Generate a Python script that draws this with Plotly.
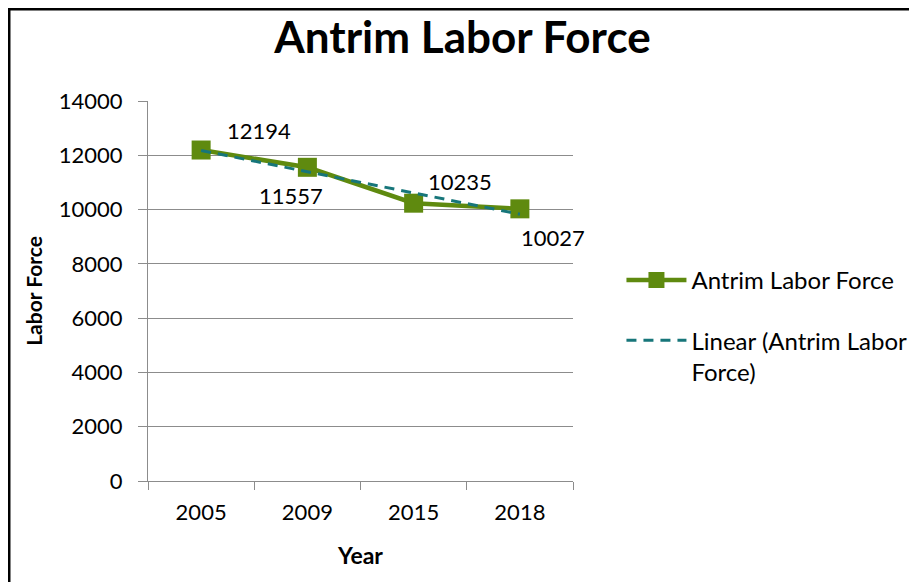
import numpy as np
import plotly.graph_objects as go

# Data
years = ["2005", "2009", "2015", "2018"]
labor_force = [12194, 11557, 10235, 10027]

# label offsets (px) relative to each point, Excel-style placement
label_dx = [58, -16, 46, 33]
label_dy = [20, -28, 22, -29]

# Linear trendline, fitted over category index like Excel does
idx = np.arange(1, len(years) + 1)
slope, intercept = np.polyfit(idx, labor_force, 1)
trend = slope * idx + intercept

FONT = "Lato, Open Sans, sans-serif"
GREEN = "#5f8a0f"
TEAL = "#17767a"
GRID = "#8c8c8c"

fig = go.Figure()
fig.add_trace(go.Scatter(
    x=years, y=labor_force, mode="lines+markers", name="Antrim Labor Force",
    line=dict(color=GREEN, width=4.5),
    marker=dict(symbol="square", size=19, color=GREEN),
    legendgroup="a", hoverinfo="skip",
))
fig.add_trace(go.Scatter(
    x=years, y=trend, mode="lines", name="Linear (Antrim Labor<br>Force)",
    line=dict(color=TEAL, width=3, dash="10px,7px"),
    legendgroup="b", hoverinfo="skip",
))

# data labels, anchored on the category index of each point
for i, (v, dx, dy) in enumerate(zip(labor_force, label_dx, label_dy)):
    fig.add_annotation(x=i, y=v, text=str(v), showarrow=False,
                       xshift=dx, yshift=dy, font=dict(size=22, color="black"))

# outer chart border (only top and left edges fall inside the picture)
fig.add_shape(type="rect", xref="paper", yref="paper",
              x0=-0.3265, x1=1.9, y0=-0.4, y1=1.2414,
              line=dict(color="black", width=2.5), fillcolor="rgba(0,0,0,0)")

fig.update_xaxes(
    type="category", range=[-0.5, 3.5], tickson="boundaries",
    ticks="outside", ticklen=8, tickcolor=GRID,
    showline=True, linecolor=GRID, linewidth=1,
    showgrid=False, tickfont=dict(size=22, color="black"), tickangle=0,
    ticklabelstandoff=12,
    title=dict(text="<b>Year</b>", font=dict(size=23, color="black"), standoff=23),
)
fig.update_yaxes(
    range=[0, 14000], dtick=2000, tickformat="d", ticks="outside", ticklen=9,
    tickcolor=GRID, showline=True, linecolor=GRID, linewidth=1,
    showgrid=True, gridcolor=GRID, gridwidth=1, zeroline=False,
    tickfont=dict(size=22, color="black"), ticklabelstandoff=11,
    title=dict(text="<b>Labor Force</b>", font=dict(size=21, color="black"), standoff=10),
)

fig.update_layout(
    width=909, height=574,
    margin=dict(l=140, r=344, t=93, b=101, autoexpand=False),
    paper_bgcolor="white", plot_bgcolor="white",
    font=dict(family=FONT, color="black"),
    title=dict(text="<b>Antrim Labor Force</b>", x=0.5, xanchor="center",
               y=0.948, yanchor="middle", font=dict(size=44, color="black")),
    legend=dict(x=1.114, y=0.587, xanchor="left", yanchor="top",
                font=dict(size=24, color="black"), valign="top",
                tracegroupgap=26, itemwidth=60, bgcolor="rgba(0,0,0,0)"),
    showlegend=True, hovermode=False,
)

fig.write_html("out.html")
